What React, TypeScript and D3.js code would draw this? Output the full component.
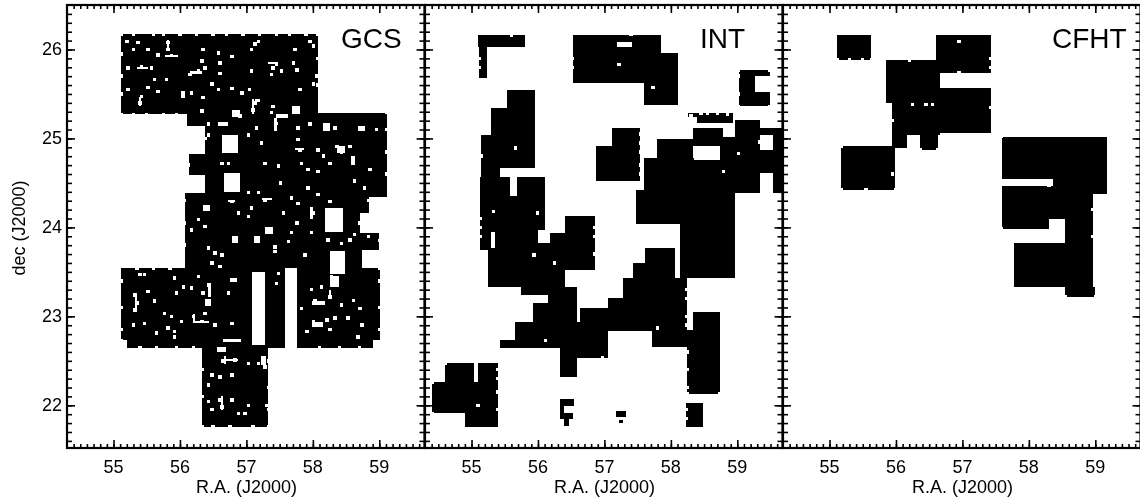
import { useEffect, useRef } from 'react';
import * as d3 from 'd3';

// every field is [ra0, ra1, decTop, decBottom]
type Box = [number, number, number, number];

const raTicks = [55, 56, 57, 58, 59];
const decTicks = [22, 23, 24, 25, 26];
const raDomain = [54.3, 59.68];
const decDomain = [21.52, 26.5];

const gcsFields: Box[] = [
  [55.11, 58.08, 26.17, 25.27], [56.11, 58.08, 25.27, 25.14], [56.38, 58.08, 25.14, 24.82],
  [56.13, 58.08, 24.82, 24.59], [56.38, 58.08, 24.59, 24.39], [56.07, 58.84, 24.39, 24.16],
  [58.08, 59.11, 25.29, 24.34], [56.07, 58.71, 24.16, 23.94], [56.07, 59.0, 23.94, 23.75],
  [56.07, 58.74, 23.75, 23.54], [55.11, 59.01, 23.54, 22.73], [55.2, 58.91, 22.73, 22.64],
  [56.33, 57.33, 22.64, 21.76],
];
const gcsGaps: Box[] = [
  [56.63, 56.88, 25.04, 24.84], [56.66, 56.9, 24.61, 24.4], [58.18, 58.46, 24.22, 23.95],
  [58.26, 58.48, 23.73, 23.48], [57.08, 57.28, 23.5, 22.68], [57.58, 57.76, 23.54, 22.62],
  [58.57, 58.64, 24.8, 24.7],
  // short streaks among the sources
  [57.08, 57.11, 25.44, 25.27], [57.13, 57.2, 25.44, 25.41], [57.45, 57.63, 25.27, 25.23], [57.42, 57.46, 25.23, 25.08],
  [56.78, 56.9, 25.32, 25.24], [57.68, 57.81, 25.36, 25.27], [55.77, 55.97, 25.94, 25.91], [55.81, 55.84, 26.11, 26.0],
  [55.38, 55.41, 25.47, 25.36], [56.02, 56.07, 25.53, 25.45], [55.33, 55.36, 23.26, 23.07], [56.2, 56.23, 23.03, 22.94],
  [56.2, 56.43, 22.95, 22.93], [56.42, 56.46, 23.37, 23.22], [56.37, 56.47, 23.2, 23.12], [57.98, 58.18, 23.17, 23.13],
  [57.98, 58.16, 22.94, 22.88], [58.25, 58.28, 23.3, 23.2], [58.26, 58.39, 23.45, 23.33], [56.62, 56.65, 22.1, 21.95],
  [56.55, 56.7, 22.66, 22.6], [56.62, 56.88, 22.52, 22.5], [56.66, 56.69, 22.55, 22.46], [57.22, 57.3, 22.55, 22.45],
  [56.65, 56.92, 22.74, 22.71], [57.28, 57.4, 24.01, 23.93], [57.12, 57.2, 23.9, 23.82], [56.78, 56.88, 23.9, 23.82],
  [57.96, 58.0, 24.23, 24.09], [57.23, 57.38, 24.33, 24.31], [56.72, 56.83, 24.31, 24.28], [56.35, 56.45, 24.25, 24.18],
  [58.16, 58.26, 25.17, 25.08], [56.6, 56.73, 25.18, 25.14], [58.68, 58.78, 25.14, 25.08], [58.36, 58.49, 24.91, 24.84],
  [57.73, 57.86, 24.89, 24.87], [55.35, 55.52, 25.8, 25.78], [56.15, 56.33, 25.76, 25.72], [57.33, 57.48, 25.86, 25.84],
];
const gcsSpecks = [
  [55.2, 26.09], [55.37, 26.08], [55.3, 26.0], [55.82, 26.08], [55.82, 26.0], [55.87, 25.93], [55.52, 26.0], [55.67, 25.94],
  [56.35, 26.0], [56.58, 25.96], [56.78, 25.92], [57.13, 26.06], [57.18, 26.09], [57.08, 26.0], [57.73, 26.0], [57.96, 26.09],
  [58.01, 26.04], [55.42, 25.81], [55.22, 25.79], [55.57, 25.79], [56.6, 25.85], [56.33, 25.87], [57.45, 25.83], [57.71, 25.85],
  [57.4, 25.79], [57.76, 25.77], [57.53, 25.76], [56.28, 25.76], [56.15, 25.72], [56.38, 25.79], [57.08, 25.76], [57.38, 25.72],
  [55.8, 25.66], [55.62, 25.66], [58.06, 25.7], [56.6, 25.73], [55.22, 25.55], [55.42, 25.47], [55.52, 25.57], [55.67, 25.53],
  [56.05, 25.49], [56.17, 25.51], [56.35, 25.46], [56.48, 25.61], [56.58, 25.55], [56.78, 25.56], [56.93, 25.51], [57.05, 25.55],
  [57.81, 25.55], [58.01, 25.61], [55.4, 25.4], [57.13, 25.4], [57.1, 25.32], [57.4, 25.36], [57.73, 25.34], [56.83, 25.29],
  [56.9, 25.25], [56.33, 25.31], [57.38, 25.29], [57.53, 25.25], [57.45, 25.17], [57.15, 25.12], [56.6, 25.16], [56.43, 25.16],
  [56.43, 25.04], [57.78, 25.12], [58.18, 25.14], [58.33, 25.12], [58.71, 25.12], [58.96, 25.1], [57.96, 25.16], [57.03, 25.04],
  [57.23, 24.95], [57.78, 24.99], [57.81, 24.87], [58.08, 24.87], [58.36, 24.91], [58.56, 24.91], [58.43, 24.85], [56.63, 24.72],
  [56.73, 24.72], [57.28, 24.72], [57.48, 24.69], [58.16, 24.8], [58.26, 24.72], [57.83, 24.72], [58.08, 24.63], [58.86, 24.65],
  [57.93, 24.65], [57.51, 24.5], [57.03, 24.39], [57.18, 24.39], [57.28, 24.31], [57.68, 24.33], [57.93, 24.44], [58.08, 24.37],
  [58.26, 24.29], [58.63, 24.52], [58.78, 24.44], [56.38, 24.22], [56.78, 24.29], [57.08, 24.22], [56.88, 24.16], [57.03, 24.12],
  [56.28, 24.09], [57.56, 24.16], [57.78, 24.27], [58.01, 24.16], [57.76, 24.05], [57.33, 23.97], [57.18, 23.88], [56.83, 23.86],
  [56.38, 24.01], [57.68, 23.94], [57.98, 23.94], [58.23, 23.86], [58.56, 23.86], [58.63, 23.92], [58.84, 23.9], [56.17, 23.97],
  [57.43, 23.78], [56.43, 23.77], [57.63, 23.84], [58.43, 23.82], [56.53, 23.71], [56.63, 23.69], [57.43, 23.73], [57.88, 23.69],
  [56.48, 23.6], [56.6, 23.56], [56.83, 23.41], [55.92, 23.43], [55.47, 23.47], [55.4, 23.47], [56.28, 23.45], [56.43, 23.35],
  [56.73, 23.26], [56.78, 23.41], [57.48, 23.48], [57.45, 23.37], [55.32, 23.24], [55.35, 23.15], [55.52, 23.28], [55.62, 23.17],
  [55.95, 23.26], [56.05, 23.33], [56.17, 23.32], [56.35, 23.26], [56.43, 23.15], [56.38, 23.03], [56.2, 23.0], [56.33, 22.94],
  [56.53, 22.9], [56.78, 22.92], [55.32, 23.07], [55.77, 23.03], [55.87, 23.0], [56.02, 22.94], [55.3, 22.9], [55.47, 22.92],
  [55.82, 22.87], [55.92, 22.83], [55.65, 22.81], [55.92, 22.77], [57.98, 23.3], [58.33, 23.37], [58.28, 23.45], [58.13, 23.33],
  [58.26, 23.22], [58.03, 23.17], [58.43, 23.13], [58.61, 23.18], [57.83, 23.09], [58.33, 22.98], [58.21, 22.96], [58.71, 23.09],
  [58.01, 22.94], [58.13, 22.9], [58.53, 22.98], [58.74, 22.9], [58.26, 22.85], [57.91, 22.83], [58.68, 22.77], [56.6, 22.64],
  [56.78, 22.73], [56.83, 22.51], [56.65, 22.49], [57.03, 22.47], [57.18, 22.47], [57.28, 22.43], [56.48, 22.34], [56.6, 22.32],
  [56.78, 22.34], [56.43, 22.23], [56.6, 22.06], [56.63, 21.98], [56.43, 22.04], [56.78, 22.06], [56.88, 21.91], [57.03, 22.0],
  [57.3, 22.0], [56.48, 21.95], [56.98, 21.91],
  // notches along the survey edge
  [55.3, 26.17], [55.6, 26.17], [55.75, 26.17], [56.0, 26.17], [56.25, 26.17], [56.5, 26.17], [56.7, 26.17], [56.95, 26.17],
  [57.2, 26.17], [57.45, 26.17], [57.65, 26.17], [57.9, 26.17], [55.11, 25.95], [55.11, 25.7], [55.11, 25.5], [55.11, 23.4],
  [55.11, 23.1], [55.11, 22.85], [55.3, 25.27], [55.5, 25.27], [55.75, 25.27], [55.95, 25.27], [59.11, 25.1], [59.11, 24.85],
  [59.11, 24.6], [55.4, 22.65], [55.65, 22.65], [55.95, 22.65], [56.2, 22.65], [58.1, 22.65], [58.4, 22.65], [58.7, 22.65],
  [56.5, 21.76], [56.75, 21.76], [57.1, 21.76], [57.33, 22.5], [57.33, 22.2], [57.33, 21.95], [56.33, 22.4], [56.33, 22.1],
  [59.01, 23.4], [59.01, 23.1], [59.01, 22.85], [58.08, 25.9], [58.08, 25.6], [55.35, 23.54], [55.6, 23.54], [55.85, 23.54],
  [55.11, 26.17], [58.08, 26.17], [59.11, 25.29], [59.01, 23.54], [55.11, 22.73], [56.33, 21.76], [57.33, 21.76], [55.11, 25.27],
  [56.07, 24.3], [56.07, 24.05], [56.07, 23.8], [56.13, 24.7], [56.38, 25.0], [59.0, 23.85], [58.84, 24.3], [58.71, 24.05],
];

const intFields: Box[] = [
  [55.1, 55.8, 26.16, 26.03], [55.12, 55.23, 26.03, 25.68], [56.52, 57.85, 26.16, 25.62], [57.6, 58.1, 25.96, 25.38],
  [59.02, 59.49, 25.77, 25.36], [58.26, 58.93, 25.29, 25.17], [55.53, 55.95, 25.54, 25.34], [55.3, 55.95, 25.34, 25.04],
  [55.15, 55.95, 25.04, 24.67], [55.15, 55.43, 24.67, 24.55], [55.13, 56.1, 24.57, 23.75], [56.41, 56.86, 24.13, 23.52],
  [56.1, 56.41, 23.94, 23.52], [55.25, 56.41, 23.75, 23.33], [55.75, 56.41, 23.33, 23.24], [56.15, 56.58, 23.33, 22.94],
  [55.93, 56.58, 23.15, 22.94], [55.65, 56.63, 22.94, 22.64], [55.43, 55.65, 22.73, 22.64], [56.33, 56.58, 22.64, 22.32],
  [56.58, 57.06, 22.64, 22.53], [56.63, 57.06, 23.09, 22.53], [57.06, 57.28, 23.21, 22.83], [57.28, 58.24, 23.43, 22.83], [57.43, 58.06, 23.6, 23.43],
  [57.61, 58.06, 23.77, 23.6], [57.72, 58.24, 22.83, 22.66], [58.34, 58.74, 23.05, 22.85], [58.24, 58.74, 22.85, 22.13],
  [57.48, 58.14, 24.42, 24.04], [57.59, 58.97, 24.78, 24.39], [58.14, 58.97, 24.39, 23.43], [57.79, 58.34, 24.99, 24.78],
  [58.34, 58.79, 25.12, 24.91], [58.74, 58.97, 25.02, 24.78], [58.97, 59.34, 25.21, 24.39], [59.34, 59.69, 25.12, 25.04],
  [59.54, 59.69, 25.04, 24.39], [59.34, 59.54, 24.87, 24.61], [57.11, 57.54, 25.12, 24.52], [56.88, 57.11, 24.91, 24.52],
  [54.6, 55.03, 22.47, 22.26], [55.1, 55.4, 22.47, 22.26], [54.41, 55.4, 22.26, 21.91], [54.9, 55.4, 21.91, 21.76],
  [58.23, 58.48, 22.03, 21.76], [56.33, 56.54, 22.07, 21.99], [56.33, 56.39, 21.99, 21.85], [56.39, 56.52, 21.91, 21.85],
  [56.39, 56.47, 21.85, 21.77], [57.18, 57.32, 21.94, 21.87], [57.22, 57.28, 21.83, 21.8],
];
const intGaps: Box[] = [
  [57.19, 57.42, 26.08, 26.03], [58.35, 58.74, 24.91, 24.76], [55.58, 55.68, 24.57, 24.35],
  [56.0, 56.18, 23.97, 23.82], [55.3, 55.35, 23.95, 23.77], [59.27, 59.5, 25.7, 25.52],
  [58.26, 58.4, 25.24, 25.17],
];
const intSpecks = [
  [55.66, 24.89], [55.33, 24.18], [55.99, 24.16], [57.73, 25.57], [57.22, 25.83], [59.02, 24.83], [58.79, 24.63], [55.94, 23.69],
  [56.11, 22.73], [57.8, 22.87], [56.25, 23.6], [58.02, 24.0], [56.97, 22.53], [55.1, 22.0], [55.6, 26.16], [57.4, 26.17],
  // rough field edges
  [55.13, 24.1], [55.13, 24.0], [55.13, 23.9], [55.15, 24.8], [57.54, 25.05], [57.54, 24.95], [57.54, 24.85], [57.54, 24.7],
  [57.54, 24.6], [56.86, 24.0], [56.86, 23.9], [56.86, 23.7], [58.24, 23.3], [58.24, 23.2], [58.24, 23.0], [58.24, 22.9],
  [58.24, 22.6], [58.24, 22.4], [58.24, 22.2], [59.02, 25.7], [59.02, 25.5], [56.52, 25.9], [56.52, 25.8], [58.23, 21.85],
  [58.23, 21.95], [55.4, 22.4], [55.4, 22.3], [55.4, 22.15], [55.4, 21.95], [58.3, 25.26], [58.45, 25.28], [58.55, 25.28],
  [58.7, 25.28], [58.85, 25.27], [58.74, 22.13], [58.24, 22.13], [54.6, 22.47], [54.41, 22.26], [54.41, 21.91], [55.12, 25.8],
  [55.12, 25.9], [59.49, 25.77], [59.49, 25.36], [59.02, 25.36], [59.02, 25.77], [59.34, 24.96],
];

const cfhtFields: Box[] = [
  [55.12, 55.63, 26.16, 25.88], [56.61, 57.43, 26.16, 25.74], [55.85, 56.66, 25.88, 25.4], [56.66, 57.43, 25.57, 25.06],
  [55.94, 56.66, 25.42, 25.04], [55.94, 56.17, 25.06, 24.89], [56.36, 56.63, 25.06, 24.87], [55.18, 55.99, 24.91, 24.42],
  [57.59, 59.17, 25.02, 24.54], [58.36, 59.17, 24.54, 24.38], [57.59, 58.36, 24.47, 24.09], [57.59, 58.3, 24.09, 23.98],
  [58.55, 58.96, 24.38, 23.82], [58.36, 58.96, 24.47, 24.09], [57.78, 58.96, 23.82, 23.33], [58.55, 59.0, 23.33, 23.22],
];
const cfhtSpecks = [
  [56.45, 25.38], [56.55, 25.38], [56.25, 25.38], [56.95, 26.09], [56.95, 25.74], [57.43, 25.9], [57.43, 25.35], [55.5, 25.88],
  [55.3, 25.88], [56.2, 25.88], [55.95, 24.6], [55.55, 24.42], [58.3, 24.47], [58.96, 23.9], [58.96, 24.2],
  [55.12, 25.88], [55.63, 25.88], [55.18, 24.91], [55.18, 24.42], [55.99, 24.42], [57.59, 25.02], [57.59, 23.98], [57.43, 25.8],
  [55.94, 25.2], [59.0, 23.22], [58.55, 23.22], [56.36, 24.87], [56.63, 24.87],
];

const panels = [
  { name: 'GCS', fields: gcsFields, gaps: gcsGaps, specks: gcsSpecks },
  { name: 'INT', fields: intFields, gaps: intGaps, specks: intSpecks },
  { name: 'CFHT', fields: cfhtFields, gaps: [] as Box[], specks: cfhtSpecks },
];

const App = () => {
  const svgRef = useRef<SVGSVGElement>(null);

  useEffect(() => {
    const root = d3.select(svgRef.current);
    root.selectAll('*').remove();

    // The scan in the reference is slightly soft
    root.append('filter')
      .attr('id', 'soft')
      .attr('filterUnits', 'userSpaceOnUse')
      .attr('x', 0).attr('y', 0).attr('width', 1140).attr('height', 499)
      .append('feGaussianBlur')
      .attr('stdDeviation', 0.45);

    const svg = root.append('g').attr('filter', 'url(#soft)');

    const panelLefts = [67, 425, 783];
    const labelLefts = [341, 700, 1052];
    const panelWidth = 357.5;
    const top = 5;
    const height = 443;

    const x = d3.scaleLinear().domain(raDomain).range([0, panelWidth]);
    const y = d3.scaleLinear().domain(decDomain).range([height, 0]);

    const raMinor = d3.range(544, 597).map(v => v / 10);
    const decMinor = d3.range(216, 265).map(v => v / 10);

    panels.forEach((panel, i) => {
      const g = svg.append('g').attr('transform', `translate(${panelLefts[i]},${top})`);

      const drawBoxes = (boxes: Box[], color: string) => {
        g.append('g')
          .attr('shape-rendering', 'crispEdges')
          .selectAll('rect')
          .data(boxes)
          .enter().append('rect')
          .attr('x', d => x(d[0]))
          .attr('y', d => y(d[2]))
          .attr('width', d => x(d[1]) - x(d[0]))
          .attr('height', d => y(d[3]) - y(d[2]))
          .attr('fill', color);
      };

      drawBoxes(panel.fields, '#000');
      drawBoxes(panel.gaps, '#fff');

      // Missing sources show as small white specks
      g.append('g')
        .attr('shape-rendering', 'crispEdges')
        .selectAll('rect')
        .data(panel.specks)
        .enter().append('rect')
        .attr('x', d => x(d[0]) - 1.75)
        .attr('y', d => y(d[1]) - 1.75)
        .attr('width', 3.5)
        .attr('height', 3.5)
        .attr('fill', '#fff');

      // Minor and major ticks on all four sides, pointing inwards
      const sides = [
        { axis: d3.axisBottom(x), at: [0, height], values: [raMinor, raTicks], sizes: [4, 8] },
        { axis: d3.axisTop(x), at: [0, 0], values: [raMinor, raTicks], sizes: [4, 8] },
        { axis: d3.axisLeft(y), at: [0, 0], values: [decMinor, decTicks], sizes: [5, 8] },
        { axis: d3.axisRight(y), at: [panelWidth, 0], values: [decMinor, decTicks], sizes: [5, 8] },
      ];
      sides.forEach(side => {
        side.sizes.forEach((size, k) => {
          g.append('g')
            .attr('transform', `translate(${side.at[0]},${side.at[1]})`)
            .call(side.axis.tickValues(side.values[k]).tickSize(-size).tickFormat(() => ''))
            .call(a => a.select('.domain').remove())
            .selectAll('line')
            .attr('stroke', '#000')
            .attr('stroke-width', 1.6);
        });
      });

      g.append('rect')
        .attr('width', panelWidth)
        .attr('height', height)
        .attr('fill', 'none')
        .attr('stroke', '#000')
        .attr('stroke-width', 2.2);

      const text = svg.append('g')
        .attr('font-family', '"Liberation Sans", sans-serif')
        .attr('fill', '#000');

      text.selectAll('text.ra')
        .data(raTicks)
        .enter().append('text')
        .attr('class', 'ra')
        .attr('x', d => panelLefts[i] + x(d))
        .attr('y', 473)
        .attr('text-anchor', 'middle')
        .attr('font-size', 18)
        .text(d => d);

      text.append('text')
        .attr('x', panelLefts[i] + x(57))
        .attr('y', 493)
        .attr('text-anchor', 'middle')
        .attr('font-size', 18)
        .text('R.A. (J2000)');

      text.append('text')
        .attr('x', labelLefts[i])
        .attr('y', 48)
        .attr('font-size', 28)
        .text(panel.name);

      if (i === 0) {
        text.selectAll('text.dec')
          .data(decTicks)
          .enter().append('text')
          .attr('class', 'dec')
          .attr('x', 62)
          .attr('y', d => top + y(d) + 6)
          .attr('text-anchor', 'end')
          .attr('font-size', 18)
          .text(d => d);

        text.append('text')
          .attr('transform', 'translate(25,228) rotate(-90)')
          .attr('text-anchor', 'middle')
          .attr('font-size', 18)
          .text('dec (J2000)');
      }
    });
  }, []);

  return (
    <svg
      ref={svgRef}
      width={1140}
      height={499}
      style={{ position: 'absolute', left: 0, top: 0, background: '#fff' }}
    />
  );
};

export default App;
